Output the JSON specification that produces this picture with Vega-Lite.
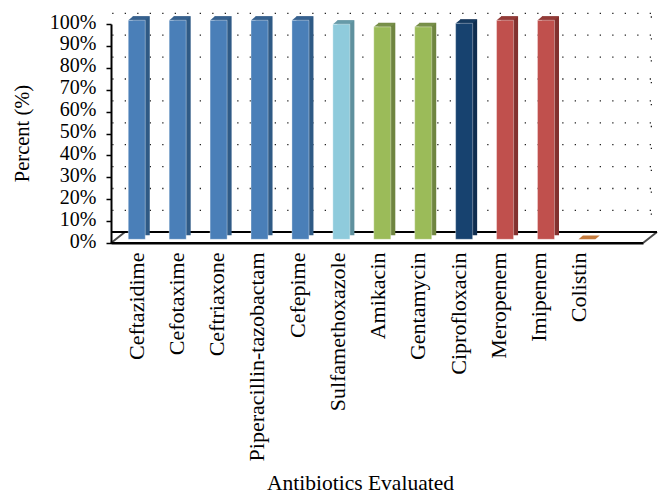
{
"$schema":"https://vega.github.io/schema/vega-lite/v6.json",
"width":532,"height":219,
"autosize":{"type":"none"},
"padding":{"left":111,"top":24,"right":28,"bottom":261},
"background":"white",
"datasets":{
"drugs":[
{"drug":"Ceftazidime","cls":"Cephalosporin","pct":100},
{"drug":"Cefotaxime","cls":"Cephalosporin","pct":100},
{"drug":"Ceftriaxone","cls":"Cephalosporin","pct":100},
{"drug":"Piperacillin-tazobactam","cls":"Cephalosporin","pct":100},
{"drug":"Cefepime","cls":"Cephalosporin","pct":100},
{"drug":"Sulfamethoxazole","cls":"Sulfonamide","pct":98.2},
{"drug":"Amikacin","cls":"Aminoglycoside","pct":97},
{"drug":"Gentamycin","cls":"Aminoglycoside","pct":97},
{"drug":"Ciprofloxacin","cls":"Fluoroquinolone","pct":98.6},
{"drug":"Meropenem","cls":"Carbapenem","pct":100},
{"drug":"Imipenem","cls":"Carbapenem","pct":100},
{"drug":"Colistin","cls":"Polymyxin","pct":0}
],
"ticks":[{"t":10},{"t":20},{"t":30},{"t":40},{"t":50},{"t":60},{"t":70},{"t":80},{"t":90},{"t":100}],
"floor":[{"t":0}]
},
"layer":[
{"data":{"name":"ticks"},"mark":{"type":"rule","color":"#222222","strokeWidth":1.3,"strokeDash":[1.3,11.2],"strokeDashOffset":6.5,"xOffset":14,"x2Offset":14,"yOffset":-10.7},
 "encoding":{"y":{"field":"t","type":"quantitative","scale":{"domain":[0,100],"nice":false},"axis":{"title":"Percent (%)"}}}},
{"data":{"name":"ticks"},"mark":{"type":"rule","color":"#222222","strokeWidth":1.3,"strokeDash":[1.3,2000],"xOffset":9,"yOffset":-7},
 "encoding":{"y":{"field":"t","type":"quantitative"}}},
{"data":{"name":"floor"},"mark":{"type":"rule","color":"black","strokeWidth":2,"xOffset":14,"x2Offset":14,"yOffset":-11},
 "encoding":{"y":{"field":"t","type":"quantitative"}}},
{"data":{"name":"floor"},"mark":{"type":"point","filled":false,"stroke":"black","strokeWidth":2,"size":4,"shape":"M0 0L14 -11M532 0L546 -11"},
 "encoding":{"y":{"field":"t","type":"quantitative"},"x":{"value":0}}},
{"data":{"name":"floor"},"mark":{"type":"rule","color":"black","strokeWidth":2},
 "encoding":{"y":{"field":"t","type":"quantitative"}}},
{"data":{"name":"drugs"},"transform":[{"filter":"datum.pct>0"}],"mark":{"type":"bar","xOffset":4.5,"yOffset":-7.7,"y2Offset":-7.7},
 "encoding":{
  "x":{"field":"drug","type":"nominal","sort":null,"scale":{"paddingInner":0.584,"paddingOuter":0.792,"align":0.266},
    "axis":{"title":"Antibiotics Evaluated","titleFont":"Liberation Serif","titleFontWeight":"normal","titleFontSize":21.5,"titleColor":"black","titleBaseline":"alphabetic","labelFont":"Liberation Serif","labelFontSize":22,"labelColor":"black","labelAngle":-90,"labelAlign":"right","labelBaseline":"middle","ticks":false,"domainColor":"black","domainWidth":2,"labelPadding":9,"labelLimit":300,"titleX":249,"titleY":246.5,"labelOffset":{"expr":"-7.7*datum.index"}}},
  "y":{"field":"pct","type":"quantitative"},
  "color":{"field":"cls","type":"nominal","legend":null,"scale":{"domain":["Cephalosporin","Sulfonamide","Aminoglycoside","Fluoroquinolone","Carbapenem","Polymyxin"],"range":["#2f5a85","#5f919e","#6f8540","#0f2d4f","#83312f","#b06a30"]}}}},
{"data":{"name":"drugs"},"mark":{"type":"point","filled":true,"opacity":1,"size":4,"yOffset":-3.7,"shape":"M-8.4 0L-4 -3.7L12.9 -3.7L8.4 0Z"},
 "encoding":{
  "x":{"field":"drug","type":"nominal","sort":null},
  "y":{"field":"pct","type":"quantitative"},
  "color":{"field":"cls","type":"nominal","legend":null,"scale":{"domain":["Cephalosporin","Sulfonamide","Aminoglycoside","Fluoroquinolone","Carbapenem","Polymyxin"],"range":["#36618f","#669aa8","#78904a","#153a60","#933a37","#c47a3c"]}}}},
{"data":{"name":"drugs"},"transform":[{"filter":"datum.pct>0"}],"mark":{"type":"bar","yOffset":-3.7,"y2Offset":-3.7,"strokeWidth":0.8,"strokeOpacity":0.45,"stroke":"#ffffff"},
 "encoding":{
  "x":{"field":"drug","type":"nominal","sort":null},
  "y":{"field":"pct","type":"quantitative"},
  "color":{"field":"cls","type":"nominal","legend":null,"scale":{"domain":["Cephalosporin","Sulfonamide","Aminoglycoside","Fluoroquinolone","Carbapenem","Polymyxin"],"range":["#4a7fb8","#8fcbdc","#9bbb59","#17426f","#c0504d","#c47a3c"]}}}}
],
"resolve":{"scale":{"color":"independent"}},
"config":{"view":{"stroke":null},
 "axisY":{"values":[0,10,20,30,40,50,60,70,80,90,100],"tickCount":11,"labelExpr":"datum.value+'%'","labelOverlap":false,"titleFont":"Liberation Serif","titleFontWeight":"normal","titleFontSize":20.5,"titleColor":"black","titleX":-79,"titleY":109,"labelFont":"Liberation Serif","labelFontSize":20,"labelColor":"black","domain":true,"ticks":true,"domainColor":"black","domainWidth":2,"tickColor":"black","tickWidth":1.5,"tickSize":5,"labelPadding":10,"grid":false,"labelOffset":-2,"labelFlush":false}}
}
